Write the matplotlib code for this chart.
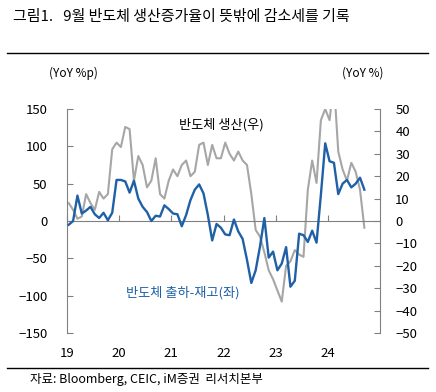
import numpy as np
import matplotlib.pyplot as plt
from matplotlib.lines import Line2D

plt.rcParams['font.family'] = ['Noto Sans CJK KR', 'DejaVu Sans']

# 2019.01 ~ 2024.09 월별 (YoY)
year_labels = ['19', '20', '21', '22', '23', '24']

# 반도체 출하-재고 (좌, %p)
ship_inv = [-5, 0, 34, 10, 14, 19, 9, 4, 11, 1, 11, 55,
            55, 53, 38, 54, 30, 19, 12, 0, 7, 6, 21, 16,
            10, 9, -7, 8, 28, 42, 49, 37, 8, -26, -4, -9,
            -18, -19, 2, -14, -24, -52, -83, -66, -34, 4, -49, -41,
            -66, -57, -35, -88, -80, -17, -19, -28, -13, -29, 35, 104,
            80, 78, 36, 50, 55, 45, 50, 58, 42]

# 반도체 생산 (우, %)
production = [8, 5, 1, 2, 12, 8, 5, 13, 10, 12, 32, 35,
              33, 42, 41, 18, 29, 25, 15, 18, 28, 12, 10, 18,
              23, 20, 25, 27, 20, 22, 34, 35, 25, 34, 28, 28,
              35, 30, 27, 31, 27, 25, 12, -4, -7, -14, -22, -26,
              -31, -36, -20, -18, -13, -15, -16, 14, 27, 17, 45, 50,
              45, 62, 31, 23, 18, 26, 22, 14, -3]

blue = '#1f60a6'
gray = '#a6a6a6'
axis_gray = '#808080'

x = np.arange(len(ship_inv))

fig = plt.figure(figsize=(4.36, 3.92), dpi=100)
ax = fig.add_axes([67/436, 1 - 333/392, 313/436, 224/392])
ax2 = ax.twinx()

ax.plot(x, ship_inv, color=blue, lw=1.7, zorder=3)
ax2.plot(x, production, color=gray, lw=1.5, zorder=2)
ax.set_zorder(ax2.get_zorder() + 1)
ax.patch.set_visible(False)

ax.set_xlim(-0.4, 71.6)
ax.set_ylim(-150, 150)
ax.set_yticks(np.arange(-150, 151, 50))
ax2.set_ylim(-50, 50)
ax2.set_yticks(np.arange(-50, 51, 10))

# x축: 0선 위에 눈금, 라벨은 아래
year_ticks = np.arange(len(year_labels)) * 12 - 0.4
ax.spines['bottom'].set_position(('data', 0))
ax.spines['bottom'].set_color(axis_gray)
ax.set_xticks(year_ticks)
ax.set_xticklabels([''] * len(year_labels))
ax.tick_params(axis='x', direction='in', length=4, color=axis_gray)
sec = ax.secondary_xaxis('bottom')
sec.set_xticks(year_ticks)
sec.set_xticklabels(year_labels, fontsize=9.5)
sec.tick_params(length=0, pad=10)
sec.spines['bottom'].set_visible(False)

for a in (ax, ax2):
    a.spines['top'].set_visible(False)
for a, side in ((ax, 'left'), (ax2, 'right')):
    a.spines[side].set_color(axis_gray)
ax.spines['right'].set_visible(False)
ax2.spines['left'].set_visible(False)
ax2.spines['bottom'].set_visible(False)
ax.tick_params(axis='y', direction='in', length=4, color=axis_gray, labelsize=9.5, pad=14)
ax2.tick_params(axis='y', direction='in', length=4, color=axis_gray, labelsize=9.5, pad=11)

ax.text(0.492, 0.929, '반도체 생산(우)', transform=ax.transAxes, ha='center', va='center',
        fontsize=9.5, color='black')
ax.text(0.371, 0.179, '반도체 출하-재고(좌)', transform=ax.transAxes, ha='center', va='center',
        fontsize=9.5, color=blue)

# 제목, 단위, 출처
fig.text(13/436, 1 - 17/392, '그림1.   9월 반도체 생산증가율이 뜻밖에 감소세를 기록',
         fontsize=10.8, va='center', ha='left')
fig.text(73/436, 1 - 73/392, '(YoY %p)', fontsize=8.5, ha='center', va='center')
fig.text(363/436, 1 - 73/392, '(YoY %)', fontsize=8.5, ha='center', va='center')
fig.text(30/436, 1 - 380/392, '자료: Bloomberg, CEIC, iM증권  리서치본부', fontsize=9,
         ha='left', va='center')
fig.add_artist(Line2D([7/436, 428/436], [1 - 53/392] * 2, color='black', lw=1))
fig.add_artist(Line2D([7/436, 428/436], [1 - 368/392] * 2, color='black', lw=1))

fig.savefig('out.png', dpi=100)
